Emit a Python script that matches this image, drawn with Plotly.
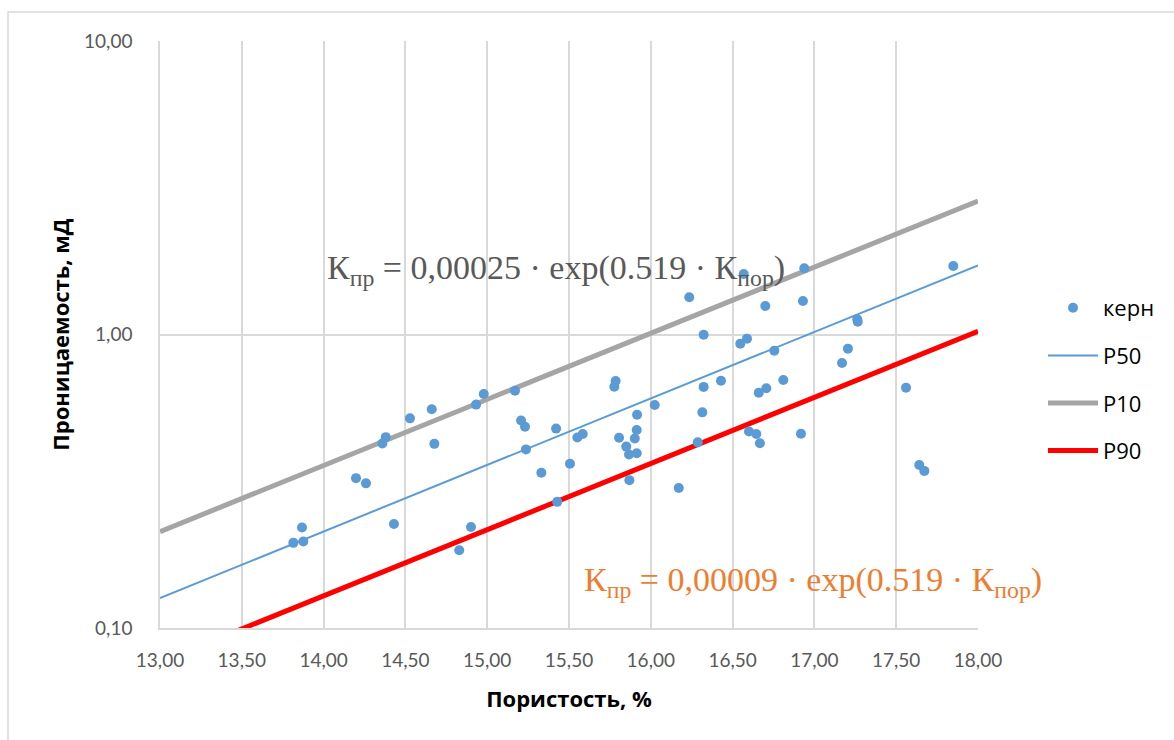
import plotly.graph_objects as go

# ---- data ----
core_porosity = [13.815, 13.868, 13.876, 14.198, 14.259, 14.359, 14.380, 14.430, 14.528, 14.661,
                 14.677, 14.829, 14.901, 14.932, 14.979, 15.170, 15.207, 15.231, 15.237, 15.331,
                 15.421, 15.428, 15.506, 15.551, 15.584, 15.777, 15.785, 15.806, 15.850, 15.867,
                 15.869, 15.902, 15.914, 15.914, 15.916, 16.024, 16.171, 16.235, 16.287, 16.315,
                 16.323, 16.323, 16.429, 16.547, 16.568, 16.588, 16.600, 16.645, 16.660, 16.667,
                 16.700, 16.706, 16.755, 16.810, 16.918, 16.930, 16.938, 17.169, 17.205, 17.262,
                 17.265, 17.560, 17.641, 17.672, 17.849]
core_perm = [0.195, 0.220, 0.197, 0.324, 0.311, 0.425, 0.447, 0.226, 0.518, 0.556,
             0.424, 0.184, 0.221, 0.577, 0.627, 0.643, 0.509, 0.485, 0.406, 0.338,
             0.478, 0.269, 0.363, 0.446, 0.458, 0.664, 0.694, 0.445, 0.415, 0.390,
             0.319, 0.442, 0.473, 0.394, 0.533, 0.575, 0.300, 1.339, 0.429, 0.543,
             0.998, 0.663, 0.696, 0.930, 1.607, 0.968, 0.467, 0.458, 0.633, 0.426,
             1.251, 0.656, 0.881, 0.700, 0.459, 1.301, 1.681, 0.800, 0.895, 1.127,
             1.105, 0.659, 0.359, 0.343, 1.712]

line_x = [13.0, 18.0]
p50_y = [0.1265, 1.72]
p10_y = [0.213, 2.85]
p90_y = [0.0766, 1.026]

x_tickvals = [13.0, 13.5, 14.0, 14.5, 15.0, 15.5, 16.0, 16.5, 17.0, 17.5, 18.0]
x_ticktext = ["13,00", "13,50", "14,00", "14,50", "15,00", "15,50", "16,00", "16,50", "17,00", "17,50", "18,00"]
y_tickvals = [0.1, 1, 10]
y_ticktext = ["0,10", "1,00", "10,00"]

eq_p10 = "К<sub>пр</sub> = 0,00025 · exp(0.519 · К<sub>пор</sub>)"
eq_p90 = "К<sub>пр</sub> = 0,00009 · exp(0.519 · К<sub>пор</sub>)"

BLUE = "#5B9BD5"
GRAY = "#A5A5A5"
RED = "#FF0000"

L, R, T, B = 160, 978, 41, 628
W, H = 1174, 740
def px(xp):
    return (xp - L) / (R - L)
def py(yp):
    return (B - yp) / (B - T)

fig = go.Figure()
fig.add_trace(go.Scatter(x=line_x, y=p50_y, mode="lines", name="P50",
                         line=dict(color=BLUE, width=2), legendrank=2,
                         legendgroup="b"))
fig.add_trace(go.Scatter(x=line_x, y=p10_y, mode="lines", name="P10",
                         line=dict(color=GRAY, width=5), legendrank=3,
                         legendgroup="c"))
fig.add_trace(go.Scatter(x=line_x, y=p90_y, mode="lines", name="P90",
                         line=dict(color=RED, width=5), legendrank=4,
                         legendgroup="d"))
fig.add_trace(go.Scatter(x=core_porosity, y=core_perm, mode="markers", name="керн",
                         marker=dict(color=BLUE, size=10), legendrank=1,
                         legendgroup="a"))

EQ_FONT = "Liberation Serif, DejaVu Serif, serif"
fig.add_annotation(x=px(556), y=py(270), xref="paper", yref="paper", text=eq_p10,
                   xanchor="center", yanchor="middle",
                   showarrow=False, font=dict(family=EQ_FONT, size=34, color="#595959"))
fig.add_annotation(x=px(813), y=py(582), xref="paper", yref="paper", text=eq_p90,
                   xanchor="center", yanchor="middle",
                   showarrow=False, font=dict(family=EQ_FONT, size=34, color="#ED7D31"))

# outer chart border
fig.add_shape(type="rect", xref="paper", yref="paper",
              x0=px(8), x1=px(1200), y0=py(800), y1=py(12),
              line=dict(color="#D9D9D9", width=1.5), layer="below")

TITLE_FONT = dict(size=22, color="#000000", family="Open Sans, sans-serif")

fig.update_layout(
    width=W, height=H,
    margin=dict(l=L, r=W - R, t=T, b=H - B),
    paper_bgcolor="white", plot_bgcolor="white",
    font=dict(family="Lato, Open Sans, sans-serif", color="#595959", size=19),
    showlegend=True,
    legend=dict(x=px(1043), y=py(287), xanchor="left", yanchor="top",
                font=dict(size=22, color="#000000", family="Open Sans, sans-serif"),
                itemwidth=50, tracegroupgap=16, bgcolor="rgba(0,0,0,0)"),
    xaxis=dict(range=[13, 18], tickvals=x_tickvals, ticktext=x_ticktext,
               tickfont=dict(size=19, color="#595959"),
               showgrid=True, gridcolor="#D9D9D9", gridwidth=1.5,
               showline=True, linecolor="#D9D9D9", linewidth=1.5,
               zeroline=False, ticks="", ticklabelstandoff=14,
               title=dict(text="<b>Пористость, %</b>", standoff=22, font=TITLE_FONT)),
    yaxis=dict(type="log", range=[-1, 1], tickvals=y_tickvals, ticktext=y_ticktext,
               tickfont=dict(size=19, color="#595959"),
               showgrid=True, gridcolor="#D9D9D9", gridwidth=1.5,
               showline=True, linecolor="#D9D9D9", linewidth=1.5,
               zeroline=False, ticks="", ticklabelstandoff=22,
               title=dict(text="<b>Проницаемость, мД</b>", standoff=8, font=TITLE_FONT)),
)

fig.write_html("out.html")
